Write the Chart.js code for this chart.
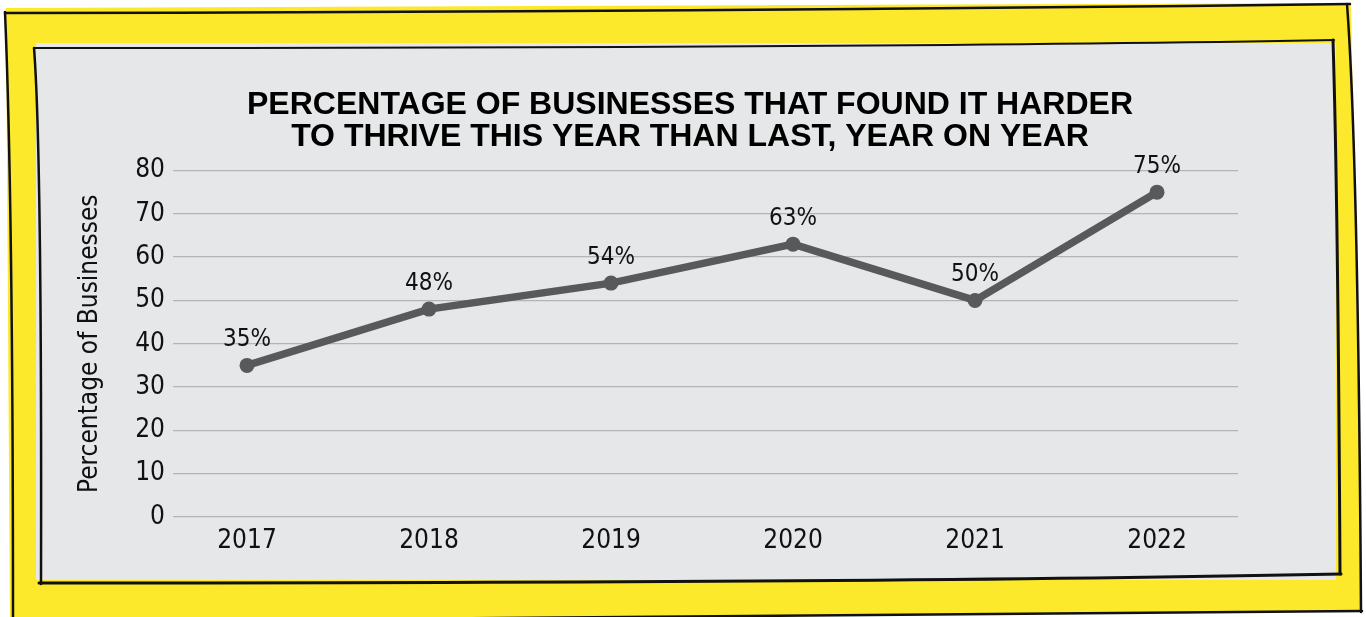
<!DOCTYPE html>
<html>
<head>
<meta charset="utf-8">
<script src="https://cdn.jsdelivr.net/npm/chart.js@4/dist/chart.umd.min.js"></script>
<style>
  html, body { margin: 0; padding: 0; background: #ffffff; }
  #wrap { width: 1366px; height: 617px; }
</style>
</head>
<body>
<div id="wrap"><canvas id="chart" width="1366" height="617"></canvas></div>
<script>
// Survey years and share of businesses that found it harder to thrive (%)
const years = ['2017', '2018', '2019', '2020', '2021', '2022'];
const percentHarder = [35, 48, 54, 63, 50, 75];
const yTicks = [0, 10, 20, 30, 40, 50, 60, 70, 80];

const titleLines = [
  'PERCENTAGE OF BUSINESSES THAT FOUND IT HARDER',
  'TO THRIVE THIS YEAR THAN LAST, YEAR ON YEAR'
];
const yTitle = 'Percentage of Businesses';

const BODY_FONT = '"DejaVu Sans Condensed", "DejaVu Sans", sans-serif';
const LINE_GREY = '#58595B';

// Yellow card with a sketchy black outline and a grey inner panel
const cardBackground = {
  id: 'cardBackground',
  beforeDraw(chart) {
    const ctx = chart.ctx;
    ctx.save();
    ctx.fillStyle = '#ffffff';
    ctx.fillRect(0, 0, chart.width, chart.height);

    // yellow card
    ctx.fillStyle = '#FDE92B';
    ctx.beginPath();
    ctx.moveTo(6, 8);
    ctx.lineTo(1351, 3);
    ctx.lineTo(1362, 611);
    ctx.lineTo(10, 622);
    ctx.closePath();
    ctx.fill();

    ctx.strokeStyle = '#111111';
    ctx.lineCap = 'round';
    const stroke = (w, pts) => {
      ctx.lineWidth = w;
      ctx.beginPath();
      ctx.moveTo(pts[0], pts[1]);
      ctx.quadraticCurveTo(pts[2], pts[3], pts[4], pts[5]);
      ctx.stroke();
    };
    // outer outline
    stroke(2.5, [5, 13, 700, 12, 1350, 4]);
    stroke(2.5, [1347, 4, 1358, 150, 1361, 612]);
    stroke(2.5, [1362, 611, 700, 617, 10, 622]);
    stroke(2.5, [13, 625, 13, 200, 5, 12]);

    // grey panel
    ctx.fillStyle = '#E6E7E8';
    ctx.fillRect(36, 43, 1300, 537);

    // panel outline
    stroke(2, [34, 48, 900, 48, 1334, 40]);
    stroke(3, [1333, 40, 1338, 200, 1340, 574]);
    stroke(3, [1341, 574, 900, 583, 39, 583]);
    stroke(2.5, [41, 584, 42, 150, 34, 48]);
    ctx.restore();
  }
};

// Percentage labels above each point
const valueLabels = {
  id: 'valueLabels',
  afterDatasetsDraw(chart) {
    const ctx = chart.ctx;
    const meta = chart.getDatasetMeta(0);
    ctx.save();
    ctx.font = '24px ' + BODY_FONT;
    ctx.fillStyle = '#111111';
    ctx.textAlign = 'center';
    ctx.textBaseline = 'alphabetic';
    meta.data.forEach((pt, i) => {
      ctx.fillText(percentHarder[i] + '%', pt.x, pt.y - 19);
    });
    ctx.restore();
  }
};

new Chart(document.getElementById('chart'), {
  type: 'line',
  data: {
    datasets: [{
      data: percentHarder.map((v, i) => ({ x: i, y: v })),
      borderColor: LINE_GREY,
      backgroundColor: LINE_GREY,
      borderWidth: 7.5,
      pointRadius: 7.5,
      pointHoverRadius: 7.5,
      pointBackgroundColor: LINE_GREY,
      pointBorderWidth: 0,
      tension: 0,
      clip: false
    }]
  },
  options: {
    responsive: false,
    animation: false,
    devicePixelRatio: 1,
    layout: { padding: { left: 70, right: 56, top: 0, bottom: 0 } },
    plugins: {
      legend: { display: false },
      tooltip: { enabled: false },
      title: {
        display: true,
        text: titleLines,
        color: '#000000',
        font: { family: '"Liberation Sans", Arial, sans-serif', size: 32, weight: 'bold', lineHeight: '32px' },
        padding: { top: 89, bottom: 17.5 }
      }
    },
    scales: {
      x: {
        type: 'linear',
        min: -0.4066,
        max: 5.445,
        grid: { display: false, drawTicks: false },
        border: { display: false },
        afterBuildTicks(scale) {
          scale.ticks = years.map((_, i) => ({ value: i }));
        },
        afterFit(scale) { scale.height = 100; },
        ticks: {
          autoSkip: false,
          maxRotation: 0,
          padding: 9,
          color: '#111111',
          font: { family: BODY_FONT, size: 26 },
          callback: (v) => years[v]
        }
      },
      y: {
        min: 0,
        max: 80,
        afterBuildTicks(scale) {
          scale.ticks = yTicks.map(v => ({ value: v }));
        },
        afterFit(scale) { scale.width = 103; },
        grid: { color: '#B4B4B4', lineWidth: 1.3, drawTicks: false },
        border: { display: false },
        ticks: {
          padding: 8,
          color: '#111111',
          font: { family: BODY_FONT, size: 26 }
        },
        title: {
          display: true,
          text: yTitle,
          color: '#111111',
          font: { family: BODY_FONT, size: 26 },
          padding: { top: 5, bottom: 0 }
        }
      },
      // empty right-hand gutter so the heading centres over the whole panel
      gutter: {
        type: 'linear',
        position: 'right',
        display: true,
        grid: { display: false, drawTicks: false },
        border: { display: false },
        ticks: { display: false },
        afterFit(scale) { scale.width = 72; }
      }
    }
  },
  plugins: [cardBackground, valueLabels]
});
</script>
</body>
</html>
